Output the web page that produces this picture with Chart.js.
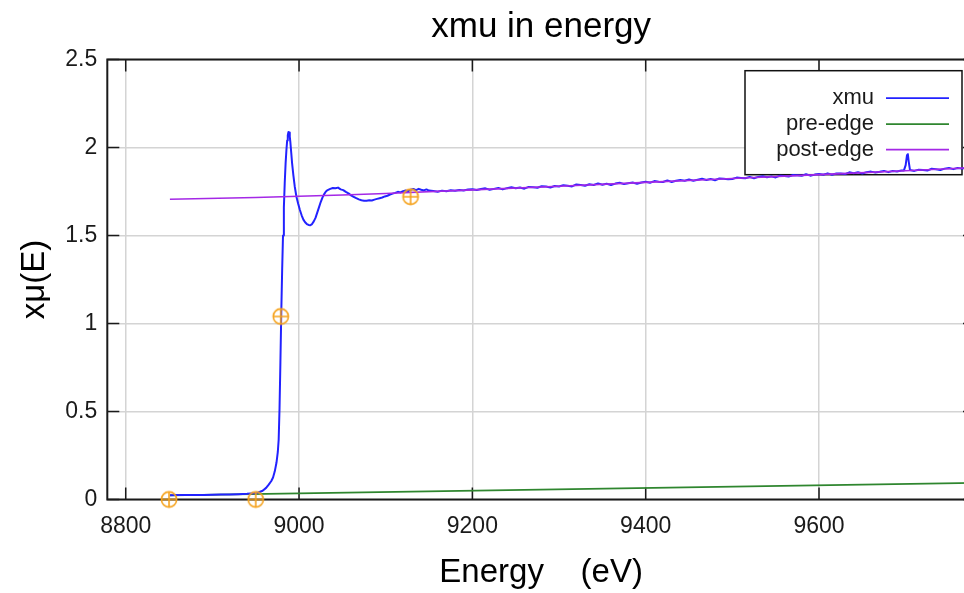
<!DOCTYPE html>
<html>
<head>
<meta charset="utf-8">
<script src="https://cdn.jsdelivr.net/npm/chart.js@4.4.1/dist/chart.umd.min.js"></script>
<style>
  html, body { margin: 0; padding: 0; background: #fff; overflow: hidden; width: 964px; height: 593px; }
  #wrap { width: 1000px; height: 593px; }
</style>
</head>
<body>
<div id="wrap"><canvas id="c" width="1000" height="593"></canvas></div>
<script>
// Energy grid (eV) and normalised absorption xmu
const energy = [
  8851, 8860, 8870, 8880, 8890, 8900, 8910, 8920, 8930, 8940, 8948, 8953, 8958, 8962, 8965, 8968, 8970, 8972, 8974,
  8975.5, 8976.5, 8977.5, 8978.5, 8979.5, 8980.5, 8981.5, 8982.5, 8983.5, 8984.5, 8985.5, 8986.3, 8987, 8987.8,
  8988.6, 8989.3, 8990, 8991, 8992, 8993.5, 8995, 8997, 8999, 9001, 9003, 9005, 9007, 9009, 9011, 9013, 9015, 9017, 9019,
  9021, 9023, 9025, 9027, 9029, 9031, 9033, 9036, 9039, 9042, 9045, 9048, 9051, 9054, 9057, 9060, 9063, 9066,
  9069, 9072, 9075, 9078, 9081, 9084, 9087, 9090, 9093, 9096, 9099, 9102, 9105, 9108, 9111, 9114, 9117, 9120,
  9123, 9126, 9129, 9132, 9135, 9138, 9141, 9144, 9147, 9150,
  9155, 9160, 9165, 9170, 9175, 9180, 9185, 9190, 9195,
  9200, 9205, 9210, 9215, 9220, 9225, 9230, 9235, 9240, 9245, 9250, 9255, 9260, 9265, 9270, 9275, 9280, 9285, 9290, 9295,
  9300, 9305, 9310, 9315, 9320, 9325, 9330, 9335, 9340, 9345, 9350, 9355, 9360, 9365, 9370, 9375, 9380, 9385, 9390, 9395,
  9400, 9405, 9410, 9415, 9420, 9425, 9430, 9435, 9440, 9445, 9450, 9455, 9460, 9465, 9470, 9475, 9480, 9485, 9490, 9495,
  9500, 9505, 9510, 9515, 9520, 9525, 9530, 9535, 9540, 9545, 9550, 9555, 9560, 9565, 9570, 9575, 9580, 9585, 9590, 9595,
  9600, 9605, 9610, 9615, 9620, 9625, 9630, 9635, 9640, 9645, 9650, 9655, 9660, 9665, 9670, 9675, 9680, 9685, 9690, 9695,
  9698, 9700, 9701.5, 9702.5, 9703.5, 9705,
  9710, 9715, 9720, 9725, 9730, 9735, 9740, 9745, 9750, 9755, 9760, 9765, 9770, 9775, 9780
];
const xmu = [
  0.024, 0.025, 0.025, 0.026, 0.026, 0.027, 0.028, 0.029, 0.030, 0.032, 0.035, 0.040, 0.050, 0.066, 0.085, 0.105, 0.125, 0.160, 0.210,
  0.270, 0.340, 0.520, 0.780, 1.060, 1.300, 1.500, 1.660, 1.800, 1.910, 1.990, 2.040, 2.070, 2.088,
  2.085, 2.062, 2.030, 1.970, 1.910, 1.840, 1.780, 1.720, 1.680, 1.645, 1.615, 1.590, 1.575, 1.565, 1.560, 1.558, 1.565, 1.580, 1.600,
  1.630, 1.660, 1.690, 1.715, 1.735, 1.750, 1.758, 1.765, 1.770, 1.768, 1.772, 1.762, 1.758, 1.748, 1.740, 1.728, 1.720, 1.712,
  1.705, 1.700, 1.698, 1.697, 1.700, 1.699, 1.704, 1.708, 1.712, 1.716, 1.722, 1.726, 1.733, 1.738, 1.742, 1.748, 1.745, 1.752,
  1.756, 1.752, 1.760, 1.764, 1.758, 1.765, 1.760, 1.756, 1.762, 1.755,
  1.753, 1.749, 1.755, 1.752, 1.757, 1.754, 1.758, 1.756, 1.761,
  1.763, 1.758, 1.764, 1.768, 1.760, 1.765, 1.770, 1.762, 1.769, 1.774, 1.768, 1.773, 1.766, 1.776, 1.774, 1.771, 1.780, 1.778, 1.773, 1.781,
  1.778, 1.786, 1.783, 1.779, 1.790, 1.787, 1.783, 1.791, 1.787, 1.796, 1.788, 1.794, 1.787, 1.795, 1.800, 1.792, 1.797, 1.801, 1.794, 1.801,
  1.805, 1.800, 1.809, 1.806, 1.804, 1.813, 1.804, 1.811, 1.815, 1.811, 1.818, 1.811, 1.817, 1.822, 1.815, 1.821, 1.814, 1.824, 1.822, 1.820,
  1.821, 1.829, 1.827, 1.825, 1.833, 1.825, 1.833, 1.837, 1.831, 1.836, 1.830, 1.840, 1.838, 1.835, 1.844, 1.842, 1.839, 1.848, 1.840, 1.846,
  1.849, 1.845, 1.853, 1.845, 1.852, 1.852, 1.849, 1.859, 1.854, 1.859, 1.852, 1.860, 1.863, 1.858, 1.862, 1.867, 1.860, 1.866, 1.864, 1.869,
  1.870, 1.900, 1.955, 1.962, 1.920, 1.872,
  1.867, 1.874, 1.872, 1.869, 1.879, 1.877, 1.872, 1.880, 1.884, 1.877, 1.884, 1.880, 1.885, 1.889, 1.883
];

// Pre-edge line
const preEdgeEnergy = [8851, 9780];
const preEdge = [0.023, 0.094];

// Post-edge curve
const postEdgeEnergy = [8851, 8950, 9050, 9100, 9200, 9300, 9400, 9500, 9600, 9700, 9780];
const postEdge = [1.706, 1.716, 1.730, 1.739, 1.759, 1.780, 1.802, 1.824, 1.846, 1.868, 1.886];

// Fit-range markers (pre1, pre2, e0, norm1)
const markerEnergy = [8850, 8950, 8978.9, 9128.7];
const markerValue = [0, 0, 1.04, 1.72];

// Axis ticks
const xTickValues = [8800, 9000, 9200, 9400, 9600];
const yTickValues = [0, 0.5, 1, 1.5, 2, 2.5];

const seriesNames = ['xmu', 'pre-edge', 'post-edge'];
const seriesColors = ['#2222ff', '#2f862f', '#a428e6'];
const markerColor = '#f5a21c';

const xMin = 8778.75, xMax = 9780;
const yMin = 0, yMax = 2.5;

const FONT = "'Liberation Sans', Arial, sans-serif";

function pairs(xs, ys) { return xs.map((v, i) => ({ x: v, y: ys[i] })); }

// circle-with-cross symbol for the markers
function makeMarker() {
  const s = 20, c = document.createElement('canvas');
  c.width = s; c.height = s;
  const g = c.getContext('2d');
  g.strokeStyle = markerColor; g.lineWidth = 1.6;
  g.beginPath(); g.arc(s / 2, s / 2, 7.6, 0, Math.PI * 2); g.stroke();
  g.beginPath();
  g.moveTo(s / 2, s / 2 - 7.6); g.lineTo(s / 2, s / 2 + 7.6);
  g.moveTo(s / 2 - 7.6, s / 2); g.lineTo(s / 2 + 7.6, s / 2);
  g.stroke();
  return c;
}

// frame with inward ticks, and the boxed legend in the upper right
const framePlugin = {
  id: 'frame',
  beforeDatasetsDraw(chart) {
    const { ctx, chartArea: a, scales: { x, y } } = chart;
    ctx.save();
    ctx.strokeStyle = '#1a1a1a';
    ctx.lineWidth = 1.5;
    ctx.beginPath();
    x.ticks.forEach(t => {
      const px = x.getPixelForValue(t.value);
      ctx.moveTo(px, a.bottom); ctx.lineTo(px, a.bottom - 12);
      ctx.moveTo(px, a.top); ctx.lineTo(px, a.top + 12);
    });
    y.ticks.forEach(t => {
      const py = y.getPixelForValue(t.value);
      ctx.moveTo(a.left, py); ctx.lineTo(a.left + 12, py);
      ctx.moveTo(a.right, py); ctx.lineTo(a.right - 12, py);
    });
    ctx.stroke();
    ctx.lineWidth = 2;
    ctx.strokeRect(a.left, a.top, a.right - a.left, a.bottom - a.top);

    // legend
    const bx = a.right - 230, by = a.top + 11.2, bw = 217, bh = 104;
    ctx.fillStyle = '#ffffff';
    ctx.fillRect(bx, by, bw, bh);
    ctx.lineWidth = 1.5;
    ctx.strokeStyle = '#111';
    ctx.strokeRect(bx, by, bw, bh);
    ctx.font = '22px ' + FONT;
    ctx.textAlign = 'right';
    ctx.textBaseline = 'middle';
    const rows = [27.5, 53.5, 79];
    seriesNames.forEach((name, i) => {
      const ry = by + rows[i];
      ctx.fillStyle = '#1a1a1a';
      ctx.fillText(name, bx + 129, ry);
      ctx.strokeStyle = seriesColors[i];
      ctx.lineWidth = 1.8;
      ctx.beginPath(); ctx.moveTo(bx + 141, ry); ctx.lineTo(bx + 204, ry); ctx.stroke();
    });
    ctx.restore();
  }
};

const marker = makeMarker();

new Chart(document.getElementById('c'), {
  type: 'scatter',
  data: {
    datasets: [
      { label: seriesNames[0], data: pairs(energy, xmu), showLine: true, borderColor: seriesColors[0],
        borderWidth: 2, pointRadius: 0, order: 2, borderJoinStyle: 'round' },
      { label: seriesNames[1], data: pairs(preEdgeEnergy, preEdge), showLine: true, borderColor: seriesColors[1],
        borderWidth: 1.8, pointRadius: 0, order: 3 },
      { label: seriesNames[2], data: pairs(postEdgeEnergy, postEdge), showLine: true, borderColor: seriesColors[2],
        borderWidth: 1.6, pointRadius: 0, order: 1 },
      { label: 'markers', data: pairs(markerEnergy, markerValue), showLine: false, pointStyle: marker,
        pointRadius: 8, clip: false, order: 0 }
    ]
  },
  options: {
    responsive: false,
    animation: false,
    layout: { padding: { left: 0, right: 25, top: 0, bottom: 0 } },
    plugins: {
      legend: { display: false },
      tooltip: { enabled: false },
      title: {
        display: true, text: 'xmu in energy', fullSize: false, color: '#000',
        font: { family: FONT, size: 35, weight: 'normal' },
        padding: { top: 6, bottom: 11.5 }
      }
    },
    scales: {
      x: {
        type: 'linear', min: xMin, max: xMax,
        afterBuildTicks(s) { s.ticks = xTickValues.map(v => ({ value: v })); },
        afterFit(s) { s.height = 93.5; },
        ticks: { callback: v => String(v), color: '#1a1a1a', padding: 13,
                 font: { family: FONT, size: 23 }, maxRotation: 0 },
        grid: { color: '#d4d4d4', lineWidth: 1.5, drawTicks: false },
        border: { display: false },
        title: { display: true, text: 'Energy    (eV)', color: '#000',
                 font: { family: FONT, size: 33 }, padding: { top: 0, bottom: 0 } }
      },
      y: {
        type: 'linear', min: yMin, max: yMax,
        afterBuildTicks(s) { s.ticks = yTickValues.map(v => ({ value: v })); },
        ticks: { callback: v => String(v), color: '#1a1a1a', padding: 10, font: { family: FONT, size: 23 } },
        afterFit(s) { s.width = 107.3; },
        grid: { color: '#d4d4d4', lineWidth: 1.5, drawTicks: false },
        border: { display: false },
        title: { display: true, text: 'xμ(E)', color: '#000',
                 font: { family: FONT, size: 33 }, padding: { top: 15, bottom: 0 } }
      }
    }
  },
  plugins: [framePlugin]
});
</script>
</body>
</html>
